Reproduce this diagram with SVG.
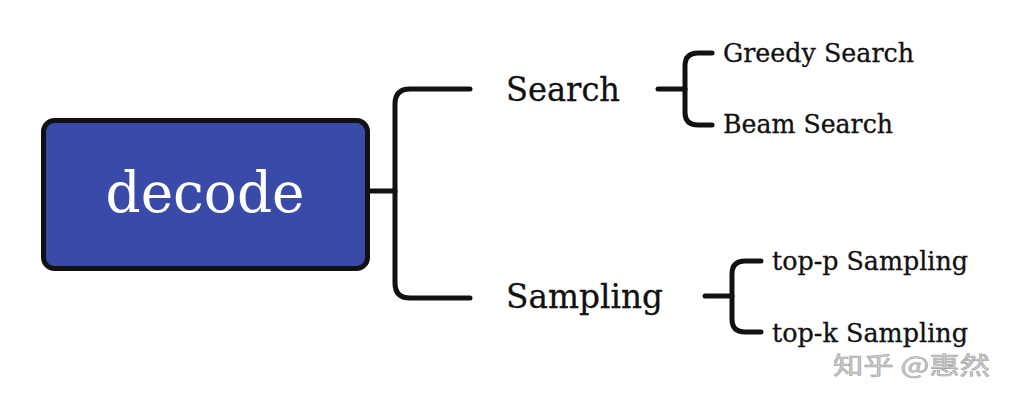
<svg xmlns="http://www.w3.org/2000/svg" width="1018" height="402" viewBox="0 0 1018 402">
<style>
.t{font-family:"DejaVu Serif","Liberation Serif",serif;fill:#111;stroke:#111;stroke-width:0.3;}
.c{fill:none;stroke:#111;stroke-width:5;stroke-linecap:round;stroke-linejoin:round;}
</style>
<rect width="1018" height="402" fill="#fff"/>
<g id="connectors">
<path class="c" d="M370 191 H395"/>
<path class="c" d="M470 89 H410 Q395 89 395 104 V283 Q395 298 410 298 H470"/>
<path class="c" d="M658 89 H685"/>
<path class="c" d="M712 53 H698 Q685 53 685 66 V112 Q685 125 698 125 H712"/>
<path class="c" d="M705 296 H732"/>
<path class="c" d="M761 261 H745 Q732 261 732 274 V319 Q732 332 745 332 H761"/>
</g>
<g id="decode">
<rect x="43.5" y="120.5" width="324" height="148" rx="11" fill="#3a4aa8" stroke="#111" stroke-width="5"/>
<text class="t" x="205" y="212" font-size="56" text-anchor="middle" style="fill:#fff;stroke:none" textLength="199" lengthAdjust="spacingAndGlyphs">decode</text>
</g>
<g id="search">
<text class="t" x="506" y="101" font-size="34" textLength="114" lengthAdjust="spacingAndGlyphs">Search</text>
</g>
<g id="sampling">
<text class="t" x="506" y="308" font-size="34" textLength="157" lengthAdjust="spacingAndGlyphs">Sampling</text>
</g>
<g id="greedy">
<text class="t" x="723" y="62" font-size="25.5" textLength="191" lengthAdjust="spacingAndGlyphs">Greedy Search</text>
</g>
<g id="beam">
<text class="t" x="723" y="133" font-size="25.5" textLength="170" lengthAdjust="spacingAndGlyphs">Beam Search</text>
</g>
<g id="topp">
<text class="t" x="772" y="270" font-size="25.5" textLength="196" lengthAdjust="spacingAndGlyphs">top-p Sampling</text>
</g>
<g id="topk">
<text class="t" x="772" y="342" font-size="25.5" textLength="196" lengthAdjust="spacingAndGlyphs">top-k Sampling</text>
</g>
<text x="833" y="374" font-family="'Noto Sans CJK SC',sans-serif" font-size="24" fill="#cfcfcf" stroke="#a0a0a0" stroke-width="0.6" textLength="157" lengthAdjust="spacingAndGlyphs">知乎 @惠然</text>
</svg>
